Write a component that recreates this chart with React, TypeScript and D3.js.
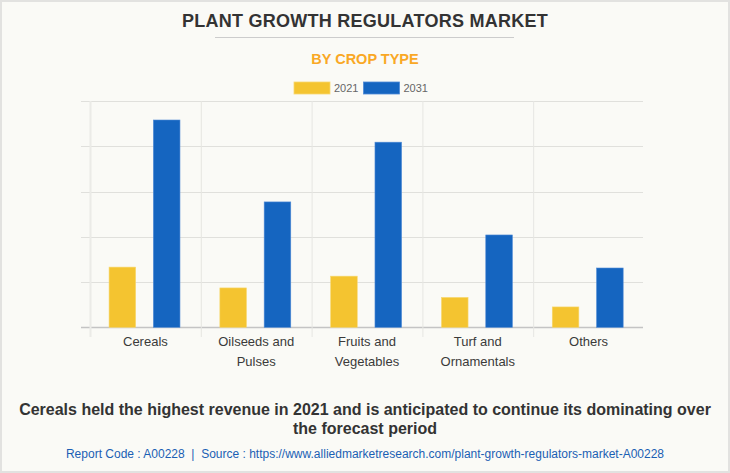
import React from "react";
import * as d3 from "d3";

const categories = ["Cereals", "Oilseeds and Pulses", "Fruits and Vegetables", "Turf and Ornamentals", "Others"];
const categoryLines = [["Cereals"], ["Oilseeds and", "Pulses"], ["Fruits and", "Vegetables"], ["Turf and", "Ornamentals"], ["Others"]];
const seriesNames = ["2021", "2031"];
const values2021 = [133, 87, 113, 66, 45];
const values2031 = [458, 277, 409, 204, 131];
const yTicks = [0, 100, 200, 300, 400, 500];
const colors = ["#f4c430", "#1565c0"];

const W = 730;
const H = 473;

export default function App() {
  const x0 = d3.scaleBand<string>().domain(categories).range([90, 644]).paddingInner(0).paddingOuter(0);
  const bw = x0.bandwidth();
  const x1 = d3.scaleBand<string>().domain(seriesNames).range([bw * 0.172, bw * 0.812]).paddingInner(0.4).paddingOuter(0);
  const y = d3.scaleLinear().domain([0, 500]).range([327.3, 101]);
  const seriesVals = [values2021, values2031];
  const font = "'Liberation Sans', Arial, sans-serif";

  return (
    <svg width={W} height={H} style={{ position: "absolute", left: 0, top: 0, display: "block" }} fontFamily={font}>
      <rect x={0} y={0} width={W} height={H} fill="#fafaf6" />
      <rect x={1} y={1} width={W - 2} height={H - 2} fill="none" stroke="#e2e2e0" strokeWidth={2} />
      <text x={365} y={27} textAnchor="middle" fontSize={18} fontWeight="bold" fill="#333333" letterSpacing={0.25}>
        PLANT GROWTH REGULATORS MARKET
      </text>
      <line x1={215} x2={514} y1={37.5} y2={37.5} stroke="#cccccc" strokeWidth={1} />
      <text x={365} y={64} textAnchor="middle" fontSize={14.5} fontWeight="bold" fill="#f9a825">
        BY CROP TYPE
      </text>
      {/* legend */}
      {seriesNames.map((s, i) => (
        <g key={s} transform={`translate(${294 + i * 69.5},82)`}>
          <rect x={0} y={0} width={36} height={12} fill={colors[i]} stroke={i === 0 ? "#f7d870" : "#4f8ad6"} strokeWidth={0.8} />
          <text x={40} y={10} fontSize={11} fill="#666666">{s}</text>
        </g>
      ))}
      {/* horizontal grid */}
      {yTicks.map((t) => (
        <line key={t} x1={81} x2={643} y1={Math.round(y(t)) + 0.5} y2={Math.round(y(t)) + 0.5} stroke={t === 0 ? "#c4c4c4" : "#e0e0dc"} strokeWidth={t === 0 ? 1.5 : 1} />
      ))}
      {/* vertical grid */}
      {categories.map((c, i) => (
        <line key={c} x1={(x0(c) as number) + 0.5} x2={(x0(c) as number) + 0.5} y1={101} y2={337} stroke={i === 0 ? "#ebebe7" : "#e6e6e2"} strokeWidth={i === 0 ? 2 : 1} />
      ))}
      {/* bars */}
      {categories.map((c, ci) => (
        <g key={c} transform={`translate(${x0(c)},0)`}>
          {seriesNames.map((s, si) => {
            const v = seriesVals[si][ci];
            return (
              <rect key={s} x={x1(s)} y={y(v)} width={x1.bandwidth()} height={y(0) - y(v)} fill={colors[si]} stroke={si === 0 ? "#f7d870" : "#4f8ad6"} strokeWidth={0.6} />
            );
          })}
        </g>
      ))}
      {/* category labels */}
      {categories.map((c, ci) => (
        <text key={c} textAnchor="middle" fontSize={13} fill="#3a3a3a">
          {categoryLines[ci].map((ln, li) => (
            <tspan key={li} x={(x0(c) as number) + bw / 2} y={346 + li * 19.5}>{ln}</tspan>
          ))}
        </text>
      ))}
      {/* caption */}
      <text textAnchor="middle" fontSize={16} fontWeight="bold" fill="#333333">
        <tspan x={365} y={415}>Cereals held the highest revenue in 2021 and is anticipated to continue its dominating over</tspan>
        <tspan x={365} y={434}>the forecast period</tspan>
      </text>
      <text x={365} y={458} textAnchor="middle" fontSize={12} fill="#1a5fb4">
        {"Report Code : A00228\u00a0\u00a0|\u00a0\u00a0Source : https://www.alliedmarketresearch.com/plant-growth-regulators-market-A00228"}
      </text>
    </svg>
  );
}
